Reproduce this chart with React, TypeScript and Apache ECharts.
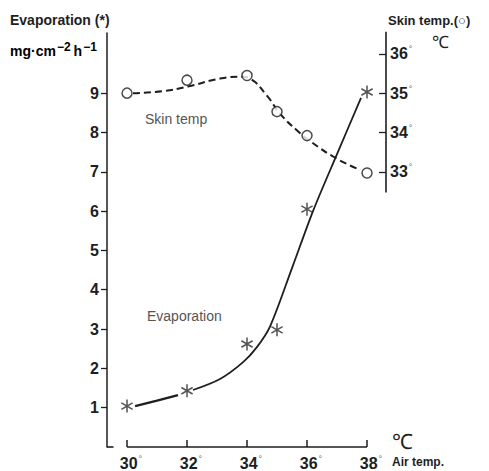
import React, { useEffect, useRef } from "react";
import * as echarts from "echarts";

const airTempTicks = [30, 32, 34, 36, 38];
const evapTicks = [1, 2, 3, 4, 5, 6, 7, 8, 9];
const skinTicks = [33, 34, 35, 36];

// measured points (air temp °C, value)
const evaporation: [number, number][] = [
  [30, 1.04], [32, 1.43], [34, 2.62], [35, 2.98], [36, 6.05], [38, 9.03],
];
const skinTemp: [number, number][] = [
  [30, 35.0], [32, 35.33], [34, 35.45], [35, 34.53], [36, 33.92], [38, 32.97],
];
// drawn (fitted) curves
const evapCurveA: [number, number][] = [
  [30.27, 1.04], [31.0, 1.18], [31.7, 1.32],
];
const evapCurveB: [number, number][] = [
  [32.2, 1.45], [33.1, 1.73], [33.87, 2.16], [34.33, 2.54], [34.77, 3.07],
  [35.5, 4.55], [36.2, 6.0], [37.0, 7.45], [37.8, 8.88],
];
const skinCurve: [number, number][] = [
  [30.2, 35.0], [31.2, 35.05], [32.03, 35.17], [33.1, 35.37], [33.83, 35.42],
  [34.1, 35.37], [34.67, 34.93], [35.1, 34.48], [35.67, 34.05], [36.1, 33.78],
  [37.0, 33.33], [37.77, 33.05],
];
// axis line extents
const airAxisLine: [number, number][] = [[30, 0], [38, 0]];
const cornerLine: [number, number][] = [[29.333, 0], [29.55, 0]];
const skinAxisLine: [number, number][] = [[38.633, 32.47], [38.633, 36.56]];

const X_MIN = 29.333;
const X_MAX = 38.633;
const INK = "#1e1e1e";
const FONT = "Liberation Sans, Arial, sans-serif";

const STAR =
  "path://M13.3 1L10.7 1L10.7 23L13.3 23Z M3.124 5.375L1.824 7.625L20.876 18.625L22.176 16.375Z M22.176 7.625L20.876 5.375L1.824 16.375L3.124 18.625Z";

const axisSeries = (data: [number, number][], yAxisIndex: number) => ({
  type: "line",
  data,
  yAxisIndex,
  clip: false,
  showSymbol: false,
  silent: true,
  lineStyle: { color: INK, width: 1.6 },
  z: 3,
});

export default function App() {
  const ref = useRef<HTMLDivElement>(null);
  useEffect(() => {
    document.body.style.margin = "0";
    const chart = echarts.init(ref.current!, null, { renderer: "svg" });
    const degRich = {
      n: { fontSize: 16, fontWeight: "bold", fontFamily: FONT, color: INK },
      d: { fontSize: 9, fontFamily: FONT, color: "#666", verticalAlign: "top", padding: [0, 0, 9, 1] },
    };
    chart.setOption({
      animation: false,
      backgroundColor: "#ffffff",
      grid: { left: 107, top: 33, width: 279, height: 415, containLabel: false },
      xAxis: {
        type: "value",
        min: X_MIN,
        max: X_MAX,
        axisLine: { show: false },
        splitLine: { show: false },
        axisTick: {
          show: true,
          inside: true,
          length: 7,
          customValues: airTempTicks,
          lineStyle: { color: INK, width: 1.5 },
        },
        axisLabel: {
          customValues: airTempTicks,
          margin: 7,
          padding: [0, 0, 0, 8],
          formatter: (v: number) => `{n|${v}}{d|°}`,
          rich: degRich,
        },
      },
      yAxis: [
        {
          type: "value",
          position: "left",
          min: 0,
          max: 10.53,
          splitLine: { show: false },
          axisLine: { show: true, lineStyle: { color: INK, width: 1.5 } },
          axisTick: {
            show: true,
            inside: false,
            length: 6,
            customValues: evapTicks,
            lineStyle: { color: INK, width: 1.3 },
          },
          axisLabel: {
            customValues: evapTicks,
            margin: 8,
            fontSize: 16,
            fontWeight: "bold",
            fontFamily: FONT,
            color: INK,
          },
        },
        {
          type: "value",
          position: "right",
          min: 26,
          max: 36.53,
          splitLine: { show: false },
          axisLine: { show: false },
          axisTick: {
            show: true,
            inside: true,
            length: 7,
            customValues: skinTicks,
            lineStyle: { color: INK, width: 1.3 },
          },
          axisLabel: {
            customValues: skinTicks,
            margin: 4,
            formatter: (v: number) => `{n|${v}}{d|°}`,
            rich: degRich,
          },
        },
      ],
      series: [
        axisSeries(airAxisLine, 0),
        axisSeries(cornerLine, 0),
        axisSeries(skinAxisLine, 1),
        {
          type: "line",
          data: evapCurveA,
          smooth: true,
          showSymbol: false,
          silent: true,
          lineStyle: { color: INK, width: 2.4 },
        },
        {
          type: "line",
          data: evapCurveB,
          smooth: 0.3,
          showSymbol: false,
          silent: true,
          lineStyle: { color: INK, width: 1.8 },
        },
        {
          type: "line",
          yAxisIndex: 1,
          data: skinCurve,
          smooth: true,
          showSymbol: false,
          silent: true,
          lineStyle: { color: INK, width: 2, type: [7, 4] },
        },
        {
          name: "Evaporation",
          type: "scatter",
          data: evaporation,
          symbol: STAR,
          symbolSize: 13,
          symbolKeepAspect: true,
          itemStyle: { color: "#2a2a2a" },
          z: 5,
        },
        {
          name: "Skin temp",
          type: "scatter",
          yAxisIndex: 1,
          data: skinTemp,
          symbol: "circle",
          symbolSize: 10,
          itemStyle: { color: "#ffffff", borderColor: INK, borderWidth: 1.5 },
          z: 5,
        },
      ],
      graphic: [
        { type: "text", left: 10, top: 13, style: { text: "Evaporation (*)", font: `bold 14px ${FONT}`, fill: INK } },
        {
          type: "text",
          left: 10,
          top: 41,
          style: {
            text: "{a|mg·cm}{s|−2}{a|h}{s|−1}",
            rich: {
              a: { fontSize: 14, fontWeight: "bold", fontFamily: FONT, color: INK, padding: [0, 1, 0, 0] },
              s: { fontSize: 12, fontWeight: "bold", fontFamily: FONT, color: INK, verticalAlign: "top", padding: [0, 3, 8, 0] },
            },
          },
        },
        { type: "text", left: 388, top: 14, style: { text: "Skin temp.(○)", font: `bold 13px ${FONT}`, fill: INK } },
        { type: "text", left: 432, top: 34, style: { text: "℃", font: `17px Liberation Serif, serif`, fill: INK } },
        { type: "text", left: 145, top: 112, style: { text: "Skin temp", font: `14px ${FONT}`, fill: "#555" } },
        { type: "text", left: 147, top: 309, style: { text: "Evaporation", font: `14px ${FONT}`, fill: "#555" } },
        { type: "text", left: 392, top: 431, style: { text: "℃", font: `21px Liberation Serif, serif`, fill: INK } },
        { type: "text", left: 392, top: 456, style: { text: "Air temp.", font: `bold 12px ${FONT}`, fill: INK } },
      ],
    });
    return () => chart.dispose();
  }, []);
  return <div ref={ref} style={{ width: 489, height: 471 }} />;
}
